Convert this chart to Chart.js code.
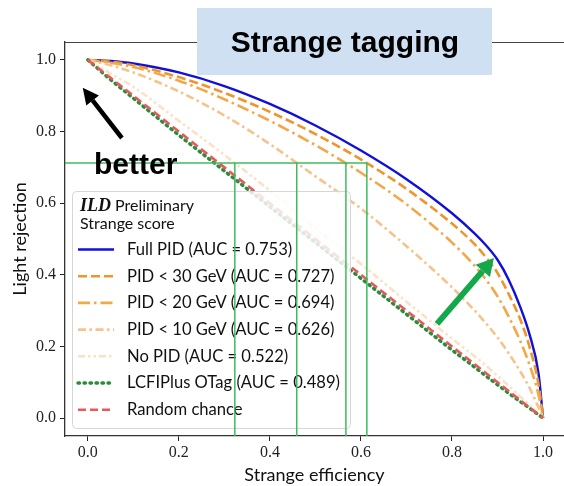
<!DOCTYPE html>
<html>
<head>
<meta charset="utf-8">
<script src="https://cdn.jsdelivr.net/npm/chart.js@4.4.1/dist/chart.umd.min.js"></script>
<style>
html,body{margin:0;padding:0;background:#fff;overflow:hidden;}
#wrap{width:564px;height:486px;position:relative;}
</style>
</head>
<body>
<div id="wrap"><canvas id="c" width="564" height="486"></canvas></div>
<script>
// ---- data ----
const efficiency = [0,0.05,0.1,0.2,0.3,0.4,0.5,0.6,0.7,0.8,0.85,0.875,0.9,0.925,0.95,0.97,0.99,1];
const fullPID   = [1,0.997,0.990,0.965,0.927,0.877,0.817,0.747,0.667,0.572,0.515,0.482,0.442,0.385,0.310,0.235,0.125,0];
const pid30     = [1,0.995,0.985,0.952,0.908,0.855,0.793,0.722,0.640,0.543,0.485,0.448,0.405,0.345,0.275,0.200,0.095,0];
const pid20     = [1,0.992,0.980,0.942,0.890,0.830,0.762,0.685,0.597,0.490,0.425,0.386,0.340,0.282,0.215,0.150,0.065,0];
const pid10     = [1,0.985,0.965,0.912,0.845,0.765,0.675,0.585,0.480,0.365,0.300,0.264,0.225,0.180,0.130,0.085,0.030,0];
const noPID     = [1,0.962,0.925,0.830,0.735,0.635,0.530,0.430,0.325,0.222,0.172,0.146,0.118,0.090,0.060,0.036,0.011,0];
const lcfiplus  = [1,0.945,0.893,0.790,0.690,0.590,0.490,0.390,0.290,0.190,0.142,0.117,0.093,0.069,0.046,0.028,0.009,0];
const randomCh  = [1,0.950,0.900,0.800,0.700,0.600,0.500,0.400,0.300,0.200,0.150,0.125,0.100,0.075,0.050,0.030,0.010,0];
const seriesLabels = [
  'Full PID (AUC = 0.753)',
  'PID < 30 GeV (AUC = 0.727)',
  'PID < 20 GeV (AUC = 0.694)',
  'PID < 10 GeV (AUC = 0.626)',
  'No PID (AUC = 0.522)',
  'LCFIPlus OTag (AUC = 0.489)',
  'Random chance'
];
const xTicks = [0.0,0.2,0.4,0.6,0.8,1.0];
const yTicks = [0.0,0.2,0.4,0.6,0.8,1.0];
const legendTitle = ['ILD', ' Preliminary', 'Strange score'];
const chartTitle = 'Strange tagging';
const betterText = 'better';
// working-point guide lines (light rejection level and efficiencies)
const guideRejection = 0.712;
const guideEfficiencies = [0.323,0.459,0.567,0.613];
// annotation arrows [x0,y0,x1,y1] in data units
const blackArrow = [0.075,0.782,-0.011,0.922];
const greenArrow = [0.767,0.263,0.892,0.447];

const toXY = ys => efficiency.map((x,i)=>({x:x,y:ys[i]}));

const styles = [
  {c:'#1010d8', d:[], w:2.4},
  {c:'#f0942c', d:[9,4], w:2.6},
  {c:'#f3a848', d:[12,4,2.5,4], w:2.6},
  {c:'#f5c38c', d:[8,3.5,2.5,3.5], w:2.6},
  {c:'#fbe1c6', d:[7,3,2.5,3,2.5,3], w:2.6},
  {c:'#2c8a3c', d:[1.5,4.5], w:3.4, cap:'round'},
  {c:'#e55a58', d:[8,4], w:2.6}
];
const allSeries = [fullPID,pid30,pid20,pid10,noPID,lcfiplus,randomCh];

const datasets = allSeries.map((s,i)=>({
  label: seriesLabels[i],
  data: toXY(s),
  borderColor: styles[i].c,
  backgroundColor: styles[i].c,
  borderDash: styles[i].d,
  borderWidth: styles[i].w,
  borderCapStyle: styles[i].cap || 'butt',
  pointRadius: 0,
  fill: false,
  cubicInterpolationMode: 'monotone',
  order: 7-i
}));

function arrow(ctx, x0,y0,x1,y1, color, w, hl, hw){
  const a = Math.atan2(y1-y0, x1-x0);
  const bx = x1 - hl*Math.cos(a), by = y1 - hl*Math.sin(a);
  ctx.save();
  ctx.strokeStyle = color; ctx.fillStyle = color; ctx.lineWidth = w; ctx.lineCap='butt';
  ctx.beginPath(); ctx.moveTo(x0,y0); ctx.lineTo(bx,by); ctx.stroke();
  ctx.beginPath();
  ctx.moveTo(x1,y1);
  ctx.lineTo(bx + hw/2*Math.sin(a), by - hw/2*Math.cos(a));
  ctx.lineTo(bx - hw/2*Math.sin(a), by + hw/2*Math.cos(a));
  ctx.closePath(); ctx.fill();
  ctx.restore();
}

const overlay = {
  id: 'overlay',
  afterDatasetsDraw(chart){
    const ctx = chart.ctx, xs = chart.scales.x, ys = chart.scales.y, ca = chart.chartArea;
    // top spine
    ctx.save();
    ctx.strokeStyle = '#444'; ctx.lineWidth = 1.2;
    ctx.beginPath(); ctx.moveTo(ca.left, ca.top+0.5); ctx.lineTo(ca.right, ca.top+0.5); ctx.stroke();
    ctx.restore();

    // legend
    const lx = 72, ly = 191, lw = 278, lh = 237;
    ctx.save();
    ctx.beginPath();
    ctx.roundRect(lx+0.5, ly+0.5, lw, lh, 4);
    ctx.fillStyle = 'rgba(255,255,255,0.82)';
    ctx.fill();
    ctx.strokeStyle = '#d6d6d6'; ctx.lineWidth = 1; ctx.stroke();
    ctx.textBaseline = 'middle'; ctx.fillStyle = '#111';
    ctx.font = 'italic bold 18px "Liberation Serif"';
    ctx.fillText(legendTitle[0], 80, 206);
    const w0 = ctx.measureText(legendTitle[0]).width;
    ctx.font = '16px Lato';
    ctx.fillText(legendTitle[1], 80 + w0, 206);
    ctx.fillText(legendTitle[2], 80, 224);
    chart.data.datasets.forEach((ds,i)=>{
      const yy = 249.5 + i*26.7;
      ctx.save();
      ctx.strokeStyle = ds.borderColor; ctx.lineWidth = ds.borderWidth;
      ctx.setLineDash(ds.borderDash); ctx.lineCap = ds.borderCapStyle;
      ctx.beginPath(); ctx.moveTo(78, yy); ctx.lineTo(114, yy); ctx.stroke();
      ctx.restore();
      ctx.fillStyle = '#111'; ctx.font = '16.6px Lato';
      ctx.fillText(ds.label, 127, yy);
    });
    ctx.restore();

    // guide lines
    ctx.save();
    ctx.strokeStyle = '#3dbb5e'; ctx.lineWidth = 1.5;
    const gy = ys.getPixelForValue(guideRejection);
    const gxMax = xs.getPixelForValue(Math.max(...guideEfficiencies));
    ctx.beginPath(); ctx.moveTo(ca.left, gy); ctx.lineTo(gxMax, gy); ctx.stroke();
    guideEfficiencies.forEach(e=>{
      const px = xs.getPixelForValue(e);
      ctx.beginPath(); ctx.moveTo(px, gy); ctx.lineTo(px, ca.bottom); ctx.stroke();
    });
    ctx.restore();

    // arrows
    arrow(ctx, xs.getPixelForValue(blackArrow[0]), ys.getPixelForValue(blackArrow[1]),
               xs.getPixelForValue(blackArrow[2]), ys.getPixelForValue(blackArrow[3]), '#000', 4.5, 16, 16);
    arrow(ctx, xs.getPixelForValue(greenArrow[0]), ys.getPixelForValue(greenArrow[1]),
               xs.getPixelForValue(greenArrow[2]), ys.getPixelForValue(greenArrow[3]), '#14a84c', 6, 17, 19);

    // "better"
    ctx.save();
    ctx.fillStyle = '#000'; ctx.font = 'bold 30px "Liberation Sans"';
    ctx.textBaseline = 'alphabetic';
    ctx.fillText(betterText, 94, 174);
    ctx.restore();

    // title box
    ctx.save();
    ctx.fillStyle = '#cfe0f2';
    ctx.fillRect(197, 8, 295, 67);
    ctx.fillStyle = '#000'; ctx.font = 'bold 30px "Liberation Sans"';
    ctx.textAlign = 'center'; ctx.textBaseline = 'alphabetic';
    ctx.fillText(chartTitle, 345, 52);
    ctx.restore();
  }
};

new Chart(document.getElementById('c'), {
  type: 'line',
  data: { datasets },
  options: {
    responsive: false,
    animation: false,
    devicePixelRatio: 1,
    layout: { padding: { top: 42, right: 0, left: 0, bottom: 0 } },
    plugins: { legend: { display: false }, tooltip: { enabled: false } },
    scales: {
      x: {
        type: 'linear', min: -0.05, max: 1.046,
        afterBuildTicks: s => { s.ticks = xTicks.map(v=>({value:v})); },
        afterFit: s => { s.height = 50; },
        grid: { display: true, drawOnChartArea: false, drawTicks: true, tickLength: 5, tickColor: '#222', tickWidth: 1 },
        border: { display: true, color: '#333', width: 1.3 },
        ticks: { color: '#222', font: { family: '"Liberation Serif"', size: 16 }, padding: 2, maxRotation: 0,
                 callback: v => v.toFixed(1) },
        title: { display: true, text: 'Strange efficiency', color: '#111',
                 font: { family: 'Lato', size: 18 }, padding: { top: 0, bottom: 0 } }
      },
      y: {
        type: 'linear', min: -0.05, max: 1.05,
        afterBuildTicks: s => { s.ticks = yTicks.map(v=>({value:v})); },
        afterFit: s => { s.width = 65; },
        grid: { display: true, drawOnChartArea: false, drawTicks: true, tickLength: 5, tickColor: '#222', tickWidth: 1 },
        border: { display: true, color: '#333', width: 1.3 },
        ticks: { color: '#222', font: { family: '"Liberation Serif"', size: 16 }, padding: 4,
                 callback: v => v.toFixed(1) },
        title: { display: true, text: 'Light rejection', color: '#111',
                 font: { family: 'Lato', size: 18 }, padding: { top: 9, bottom: 0 } }
      }
    }
  },
  plugins: [overlay]
});
</script>
</body>
</html>
